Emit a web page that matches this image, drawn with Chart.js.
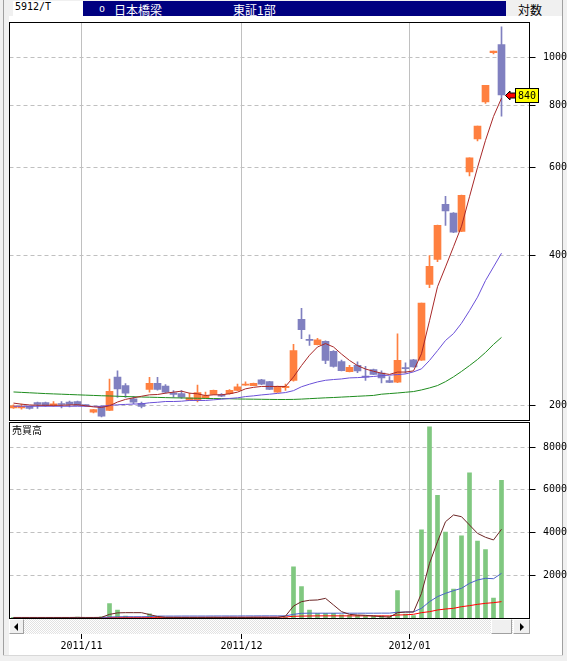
<!DOCTYPE html>
<html>
<head>
<meta charset="utf-8">
<script src="https://cdn.jsdelivr.net/npm/chart.js"></script>
<style>
  body { margin: 0; width: 567px; height: 661px; background: #f0f0f0; position: relative; overflow: hidden; }
  .abs { position: absolute; }
  #page { left: 9px; top: 16px; width: 553px; height: 639px; background: #fff; }
  #edgeL { left: 3px; top: 0; width: 1px; height: 655px; background: #a0a0a0; }
  #edgeR { left: 562px; top: 0; width: 1px; height: 655px; background: #a0a0a0; }
  #edgeB { left: 3px; top: 655px; width: 560px; height: 1px; background: #d8d8d8; }
  .hd { top: 1px; height: 15px; line-height: 15px; white-space: nowrap; }
  .hd span { position: absolute; top: 0; }
  #code { left: 13px; width: 70px; background: #fff; font: 10px "DejaVu Sans Mono", monospace; }
  #name { left: 83px; width: 423px; background: #000080; color: #fff; font: 12px "Noto Sans CJK JP", sans-serif; }
  #mode { left: 506px; width: 51px; font: 12px "Noto Sans CJK JP", sans-serif; }
  #volTitle { left: 12px; top: 424px; font: 10px "Noto Sans CJK JP", sans-serif; line-height: 12px; }
  canvas { position: absolute; left: 0; }
  #sb { left: 9px; top: 619px; width: 521px; height: 15px;
        background-color: #fff;
        background-image: repeating-conic-gradient(#ffffff 0% 25%, #e2e2e2 0% 50%);
        background-size: 2px 2px; }
  .sbtn { position: absolute; top: 0; height: 15px; box-sizing: border-box; background: #f0f0f0;
          border: 1px solid; border-color: #ffffff #a0a0a0 #a0a0a0 #ffffff; }
  .al { position: absolute; left: 4px; top: 3px; width: 0; height: 0;
        border-top: 4px solid transparent; border-bottom: 4px solid transparent; border-right: 4px solid #000; }
  .ar { position: absolute; left: 6px; top: 3px; width: 0; height: 0;
        border-top: 4px solid transparent; border-bottom: 4px solid transparent; border-left: 4px solid #000; }
</style>
</head>
<body>
<div id="page" class="abs"></div>
<div id="edgeL" class="abs"></div>
<div id="edgeR" class="abs"></div>
<div id="edgeB" class="abs"></div>

<div id="code" class="abs hd"><span style="left:2px">5912/T</span></div>
<div id="name" class="abs hd">
  <span style="left:16px;font:10px 'DejaVu Sans Mono',monospace;line-height:15px">o</span>
  <span style="left:31px">日本橋梁</span>
  <span style="left:150px">東証1部</span>
</div>
<div id="mode" class="abs hd"><span style="left:12px;color:#000">対数</span></div>

<canvas id="priceChart" width="567" height="421" style="top:0"></canvas>
<canvas id="volumeChart" width="567" height="240" style="top:421px"></canvas>

<div id="volTitle" class="abs">売買高</div>

<div id="sb" class="abs">
  <div class="sbtn" style="left:0;width:15px"><div class="al"></div></div>
  <div class="sbtn" style="left:482px;width:21px"></div>
  <div class="sbtn" style="left:504px;width:17px"><div class="ar"></div></div>
</div>

<script>
/* DATA */

const dates = [
  "2011/10/19", "2011/10/20", "2011/10/21", "2011/10/24", "2011/10/25", "2011/10/26", "2011/10/27", "2011/10/28", "2011/10/31",
  "2011/11/01", "2011/11/02", "2011/11/04", "2011/11/07", "2011/11/08", "2011/11/09", "2011/11/10", "2011/11/11", "2011/11/14",
  "2011/11/15", "2011/11/16", "2011/11/17", "2011/11/18", "2011/11/21", "2011/11/22", "2011/11/24", "2011/11/25", "2011/11/28",
  "2011/11/29", "2011/11/30",
  "2011/12/01", "2011/12/02", "2011/12/05", "2011/12/06", "2011/12/07", "2011/12/08", "2011/12/09", "2011/12/12", "2011/12/13",
  "2011/12/14", "2011/12/15", "2011/12/16", "2011/12/19", "2011/12/20", "2011/12/21", "2011/12/22", "2011/12/26", "2011/12/27",
  "2011/12/28", "2011/12/29", "2011/12/30",
  "2012/01/04", "2012/01/05", "2012/01/06", "2012/01/10", "2012/01/11", "2012/01/12", "2012/01/13", "2012/01/16", "2012/01/17",
  "2012/01/18", "2012/01/19", "2012/01/20",
  "2012/01/23", "2012/01/24", "2012/01/25"
];

const opens = [
  198, 198, 199.4, 203, 203, 200, 201.7, 203.4, 204, 200.5,
  194.2, 199.6, 195.7, 228.3, 219.6, 206.6, 202.4, 215.7, 221.8, 219.1,
  212.3, 211.6, 205.2, 205, 207.5, 210.7, 210.7, 211.4, 214.8, 220,
  219.6, 225.5, 223.7, 213, 217.5, 224.8, 298.1, 271.5, 265.3, 269.4,
  257.2, 245.4, 234.2, 241, 229.5, 236.4, 232.5, 224.8, 223.1, 238.5,
  247.4, 246.8, 350.4, 393.3, 507.2, 487.2, 447.6, 589, 686, 814,
  1021, 1060
];
const highs = [
  201, 201.5, 200, 203.5, 203.5, 204, 204, 204.5, 204.5, 201,
  196.8, 200, 226.3, 235, 221.6, 209, 203.5, 228, 228, 220.5,
  214.5, 214.5, 212, 220, 213, 215, 211.5, 215.5, 221, 223.5,
  222, 226, 224, 219, 221, 265.5, 313.6, 277.7, 273, 270,
  258, 247, 241, 245, 240, 237, 235, 229, 279, 244,
  248, 321.5, 400, 461, 526.3, 488, 529, 628.3, 727.5, 879,
  1029, 1151
];
const lows = [
  197.5, 197, 197, 197.6, 199.5, 199.5, 198, 199, 200, 199.5,
  193.5, 190, 195.5, 208, 208, 202, 198, 213, 215, 212,
  208, 207, 205, 203.5, 206.7, 210.5, 208.5, 211, 214.5, 219.8,
  219.4, 220.5, 215.5, 212.8, 214.7, 224, 272.6, 264.3, 265, 243,
  239, 235, 234, 233, 224.8, 231, 222.3, 222.5, 222.5, 232.5,
  239, 246.5, 345, 389, 460.3, 445, 447, 578, 679.6, 808,
  1016, 762
];
const closes = [
  200, 199.5, 197.6, 201.2, 200, 201.9, 201.2, 201.2, 200.3, 200.2,
  196.6, 190.6, 213.7, 216.1, 212, 203.4, 199.4, 221.8, 215.7, 213,
  210.7, 208.1, 207.5, 212.6, 209.7, 214.8, 209, 214.8, 218.4, 221.1,
  221.8, 221.1, 215.8, 218.7, 218.7, 258, 284.2, 270.5, 271.1, 246.6,
  240, 235.3, 238.8, 235, 228.3, 231.3, 227.6, 222.9, 246.6, 237.5,
  239.2, 321.5, 380.8, 460.3, 491.8, 445.7, 528.8, 628.3, 727.5, 879,
  1029, 840
];

const ma5 = [
  202.5, 201.5, 200.8, 200.5, 200.5, 200.5, 200.5, 200.8, 201, 200, 199, 198.5,
  200, 203.5, 206, 207.5, 209, 210.4, 210.7, 212, 213, 214,
  212, 211.4, 209.7, 210.4, 210.4, 211.4, 213, 216.3, 217.8, 218.7,
  218.7, 218.7, 218.7, 228.5, 240.8, 252.6, 262.4, 266.6, 262.4, 254,
  246.6, 240.8, 237, 234.6, 232.5, 231.2, 233.7, 233.7, 235, 254.4,
  296.2, 346.6, 379.8, 416.9, 458.2, 525.2, 601, 681.5, 761, 828
];
const ma25 = [
  199.6, 199.6, 199.6, 199.6, 199.6, 199.6, 199.6, 199.6, 199.6, 199.6, 199.5, 199.5,
  200.5, 200.9, 201.3, 201.6, 201.8, 202.8, 203.3, 204, 204, 204.3,
  205, 205, 205, 205.6, 206.2, 206.9, 207.5, 208.7, 209.4, 210.3,
  211, 211.8, 212.6, 214.5, 218.4, 221, 223.3, 225, 225.8, 226.4,
  227.5, 227.8, 228.4, 229, 229.8, 230.4, 231, 231.7, 233.9, 237.2,
  246.6, 258, 270.4, 279.2, 292.8, 310.4, 330.3, 356.6, 379.8, 404.6
];
const ma75 = [
  213.2, 212.8, 212.4, 212.0, 211.6, 211.3, 211.0, 210.7, 210.4, 210.1,
  209.8, 209.5, 209.3, 209.0, 208.7, 208.5, 208.3, 208.1, 207.9, 207.7,
  207.5, 207.4, 207.2, 207.1, 206.9, 206.8, 206.7, 206.6, 206.4, 206.3,
  206.2, 206.1, 206.0, 205.9, 205.9, 206.0, 206.3, 206.7, 207.1, 207.5,
  207.8, 208.2, 208.6, 209.0, 209.4, 209.8, 211.0, 211.6, 212.2, 212.9,
  213.6, 215.2, 217.2, 219.6, 223.6, 228.6, 234.4, 240.8, 247.7, 255.9,
  265.5, 274.3
];

const volumes = [
  30, 20, 25, 30, 20, 25, 30, 20, 40, 10, 30, 60,
  670, 375, 95, 20, 20, 190,
  30, 20, 20, 30, 20, 30, 20, 40, 20, 30, 20, 30, 40, 20, 30, 20, 30,
  2400, 1470, 375, 220, 220, 220, 150, 120, 120, 100, 100, 100, 80, 1280, 185, 115,
  4130, 8950, 5750, 4020, 1360, 3850, 6800, 3600, 3200, 935, 6450
];
const volMa5 = [
  25, 25, 25, 25, 25, 25, 25, 25, 28, 25, 25, 30,
  170, 240, 250, 250, 250, 160, 70,
  30, 30, 25, 25, 25, 25, 25, 25, 30, 25, 25, 25, 30, 25, 25,
  90, 560, 765, 830, 845, 920, 610, 300, 170, 140, 125, 95, 65, 40, 250, 280, 280,
  1155, 2560, 3575, 4510, 4825, 4745, 4355, 3965, 3780, 3655, 4155
];
const volMa25 = [
  20, 20, 20, 20, 20, 20, 20, 22, 22, 22, 22, 24,
  45, 55, 58, 58, 58, 65,
  90, 90, 90, 92, 92, 92, 92, 95, 95, 95, 95, 98, 98, 100, 100, 100, 100,
  170, 220, 225, 225, 225, 225, 225, 225, 225, 225, 225, 228, 228, 270, 280, 285,
  455, 765, 1000, 1155, 1280, 1390, 1625, 1780, 1860, 1840, 2090
];
const volMa75 = [
  15, 15, 15, 15, 15, 15, 15, 15, 15, 15, 15, 15,
  25, 28, 30, 30, 30, 30, 32, 32, 32,
  35, 35, 35, 38, 38, 38, 40, 40, 40, 42, 42, 42, 45, 45,
  80, 90, 95, 100, 100, 100, 100, 100, 100, 100, 100, 100, 100,
  140, 150, 172, 250, 297, 375, 421, 453, 530, 578, 640, 687, 718, 765
];

const monthStarts = ["2011/11/01", "2011/12/01", "2012/01/04"];
const monthLabels = ["2011/11", "2011/12", "2012/01"];
const priceTicks = [200, 400, 600, 800, 1000];
const volumeTicks = [2000, 4000, 6000, 8000];

/* SETUP */

const UP = "#ff8040";
const DOWN = "#8080c0";
const GRID = "#c0c0c0";
const NONE = "rgba(0,0,0,0)";

const candleColors = closes.map((c, i) => (c >= opens[i] ? UP : DOWN));
const monthIdx = monthStarts.map(d => dates.indexOf(d));

Chart.defaults.font.family = "'DejaVu Sans Mono', monospace";
Chart.defaults.font.size = 10;
Chart.defaults.color = "#000";
Chart.defaults.animation = false;
Chart.defaults.plugins.legend.display = false;
Chart.defaults.plugins.tooltip.enabled = false;

// black frame round each panel
const framePlugin = {
  id: "frame",
  afterDraw(chart) {
    const { ctx, chartArea: a } = chart;
    ctx.save();
    ctx.strokeStyle = "#000";
    ctx.lineWidth = 1;
    ctx.strokeRect(a.left, a.top + 0.5, a.right - a.left, a.bottom - a.top);
    ctx.restore();
  }
};

// yellow last-price label with the red arrow
const lastPricePlugin = {
  id: "lastPrice",
  afterDraw(chart) {
    const i = closes.length - 1;
    const xs = chart.scales.x;
    const x = xs.getPixelForValue(i) + 4;
    const y = Math.round(chart.scales.y.getPixelForValue(closes[i])) + 0.5;
    const ctx = chart.ctx;
    ctx.save();
    ctx.lineWidth = 1;
    ctx.strokeStyle = "#000";
    ctx.fillStyle = "#ff0000";
    ctx.beginPath();
    ctx.moveTo(x, y);
    ctx.lineTo(x + 4.5, y - 4.5);
    ctx.lineTo(x + 4.5, y - 2.5);
    ctx.lineTo(x + 10, y - 2.5);
    ctx.lineTo(x + 10, y + 2.5);
    ctx.lineTo(x + 4.5, y + 2.5);
    ctx.lineTo(x + 4.5, y + 4.5);
    ctx.closePath();
    ctx.fill();
    ctx.stroke();
    ctx.fillStyle = "#ffff00";
    ctx.fillRect(x + 10, y - 7, 23, 14);
    ctx.strokeRect(x + 10, y - 7, 23, 14);
    ctx.fillStyle = "#000";
    ctx.font = "10px 'DejaVu Sans Mono', monospace";
    ctx.textAlign = "center";
    ctx.textBaseline = "middle";
    ctx.fillText(String(closes[i]), x + 21.5, y + 0.5);
    ctx.restore();
  }
};

function xAxis(showLabels) {
  return {
    offset: true,
    grid: {
      offset: true,
      color: c => (monthIdx.includes(c.index) ? GRID : NONE),
      tickColor: c => (monthIdx.includes(c.index) ? "#000" : NONE),
      drawTicks: showLabels,
      tickLength: 21
    },
    border: { display: false },
    ticks: {
      display: showLabels,
      autoSkip: false,
      maxRotation: 0,
      padding: 1,
      labelOffset: -4,
      callback: (v, i) => {
        const k = monthIdx.indexOf(i);
        return k < 0 ? "" : monthLabels[k];
      }
    },
    afterFit: s => {
      s.height = showLabels ? 43 : 0;
      s.paddingLeft = 0;
      s.paddingRight = 0;
    }
  };
}

function yAxis(extra, tickValues) {
  return Object.assign({
    position: "right",
    afterBuildTicks: s => { s.ticks = tickValues.map(v => ({ value: v })); },
    ticks: { crossAlign: "far", padding: 1, callback: v => String(v) },
    grid: { color: GRID, tickColor: "#000", tickLength: 6 },
    border: { display: false, dash: [4, 3] },
    afterFit: s => {
      s.width = 37.5;
      s.paddingTop = 0;
      s.paddingBottom = 0;
    }
  }, extra);
}

/* PRICE PANEL */

new Chart(document.getElementById("priceChart"), {
  type: "bar",
  data: {
    labels: dates,
    datasets: [
      { type: "line", data: ma5, borderColor: "#a82828", borderWidth: 1, pointRadius: 0, order: 1 },
      { type: "line", data: ma25, borderColor: "#6a50d8", borderWidth: 1, pointRadius: 0, order: 2 },
      { type: "line", data: ma75, borderColor: "#1e8c1e", borderWidth: 1, pointRadius: 0, order: 3 },
      {
        data: opens.map((o, i) => [o, closes[i]]),
        backgroundColor: candleColors,
        barThickness: 7,
        minBarLength: 1,
        grouped: false,
        order: 4
      },
      {
        data: lows.map((l, i) => [l, highs[i]]),
        backgroundColor: candleColors,
        barThickness: 1,
        grouped: false,
        order: 5
      }
    ]
  },
  options: {
    responsive: false,
    devicePixelRatio: 1,
    events: [],
    layout: { padding: { left: 9.5, top: 22, right: 0, bottom: 1 } },
    scales: {
      x: xAxis(false),
      y: yAxis({ type: "logarithmic", min: 187.3, max: 1177 }, priceTicks)
    }
  },
  plugins: [framePlugin, lastPricePlugin]
});

/* VOLUME PANEL */

new Chart(document.getElementById("volumeChart"), {
  type: "bar",
  data: {
    labels: dates,
    datasets: [
      { type: "line", data: volMa5, borderColor: "#6b2424", borderWidth: 1, pointRadius: 0, order: 1 },
      { type: "line", data: volMa25, borderColor: "#4a62c8", borderWidth: 1, pointRadius: 0, order: 2 },
      { type: "line", data: volMa75, borderColor: "#ff0000", borderWidth: 1, pointRadius: 0, order: 3 },
      { data: volumes, backgroundColor: "#80c880", barThickness: 4, order: 10 }
    ]
  },
  options: {
    responsive: false,
    devicePixelRatio: 1,
    events: [],
    layout: { padding: { left: 9.5, top: 1, right: 0, bottom: 0 } },
    scales: {
      x: xAxis(true),
      y: yAxis({ min: 0, max: 9180 }, volumeTicks)
    }
  },
  plugins: [framePlugin]
});
</script>
</body>
</html>
